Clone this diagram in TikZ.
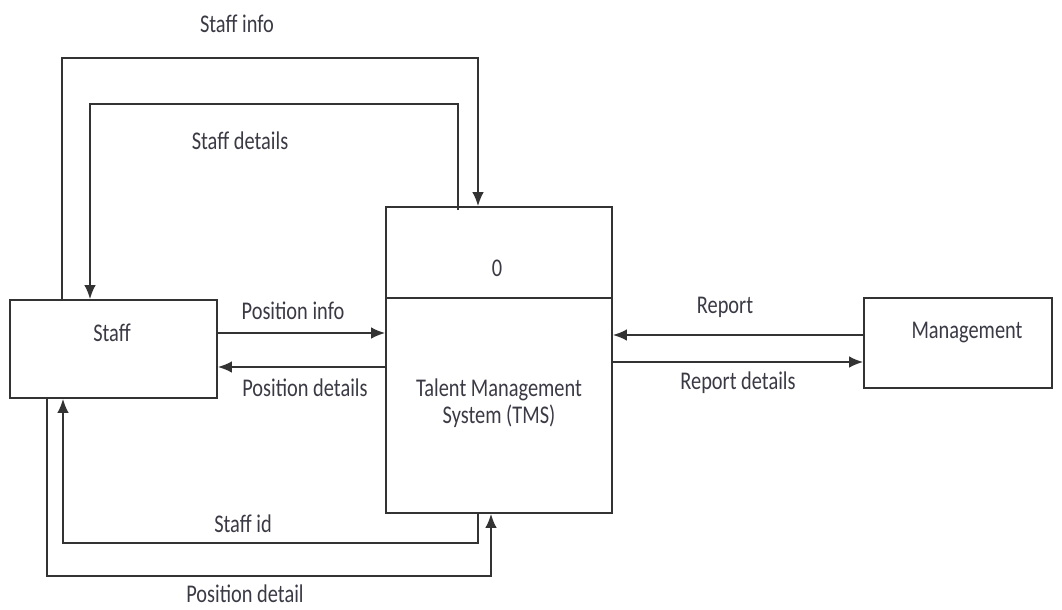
\documentclass[tikz,border=0pt]{standalone}
\usepackage{fontspec}
\setmainfont{Carlito}[FakeStretch=0.8]
\usetikzlibrary{arrows.meta,calc}
\definecolor{ink}{HTML}{333333}
\definecolor{txt}{HTML}{3A3A45}
\begin{document}
\begin{tikzpicture}[x=0.02cm,y=-0.02cm,
  boxstyle/.style={draw=ink,line width=1pt,minimum width=#1},
  arr/.style={draw=ink,line width=1pt,-{Latex[length=2.8mm,width=2.3mm]}},
  lbl/.style={font=\fontsize{14.5}{15.5}\selectfont,text=txt,inner sep=0pt}]
\useasboundingbox (0,0) rectangle (1062,609);
% boxes
\node[boxstyle=4.14cm,minimum height=1.96cm] (staff) at (113.5,349) {};
\node[boxstyle=4.52cm,minimum height=6.12cm] (tms) at (499,360) {};
\node[boxstyle=3.76cm,minimum height=1.8cm] (mgmt) at (958,343) {};
\draw[ink,line width=1pt] (tms.west |- 0,298) -- (tms.east |- 0,298);
% box texts
\node[lbl] (staffT) at (112,333) {Staff};
\node[lbl] (zero) at (497,268) {0};
\node[lbl,align=center] (tmsT) at (499,403) {Talent Management\\System (TMS)};
\node[lbl] (mgmtT) at (967,333) {Management};
% connectors
\draw[arr] (staff.north -| 62,0) |- (478,58) -- (tms.north -| 478,0);
\draw[arr] ($(tms.north -| 458,0)+(0,4)$) |- (90,104) -- (staff.north -| 90,0);
\draw[arr] (staff.east |- 0,333) -- (tms.west |- 0,333);
\draw[arr] (tms.west |- 0,367) -- (staff.east |- 0,367);
\draw[arr] (mgmt.west |- 0,335) -- (tms.east |- 0,335);
\draw[arr] (tms.east |- 0,362) -- (mgmt.west |- 0,362);
\draw[arr] (tms.south -| 478,0) |- (63,543) -- (staff.south -| 63,0);
\draw[arr] (staff.south -| 47,0) |- (491,576) -- (tms.south -| 491,0);
% connector labels
\node[lbl] (l1) at (237,24) {Staff info};
\node[lbl] (l2) at (240,141) {Staff details};
\node[lbl] (l3) at (293,311) {Position info};
\node[lbl] (l4) at (305,388) {Position details};
\node[lbl] (l5) at (725,307) {Report};
\node[lbl] (l6) at (738,383) {Report details};
\node[lbl] (l7) at (243,524) {Staff id};
\node[lbl] (l8) at (245,594) {Position detail};
\end{tikzpicture}
\end{document}
